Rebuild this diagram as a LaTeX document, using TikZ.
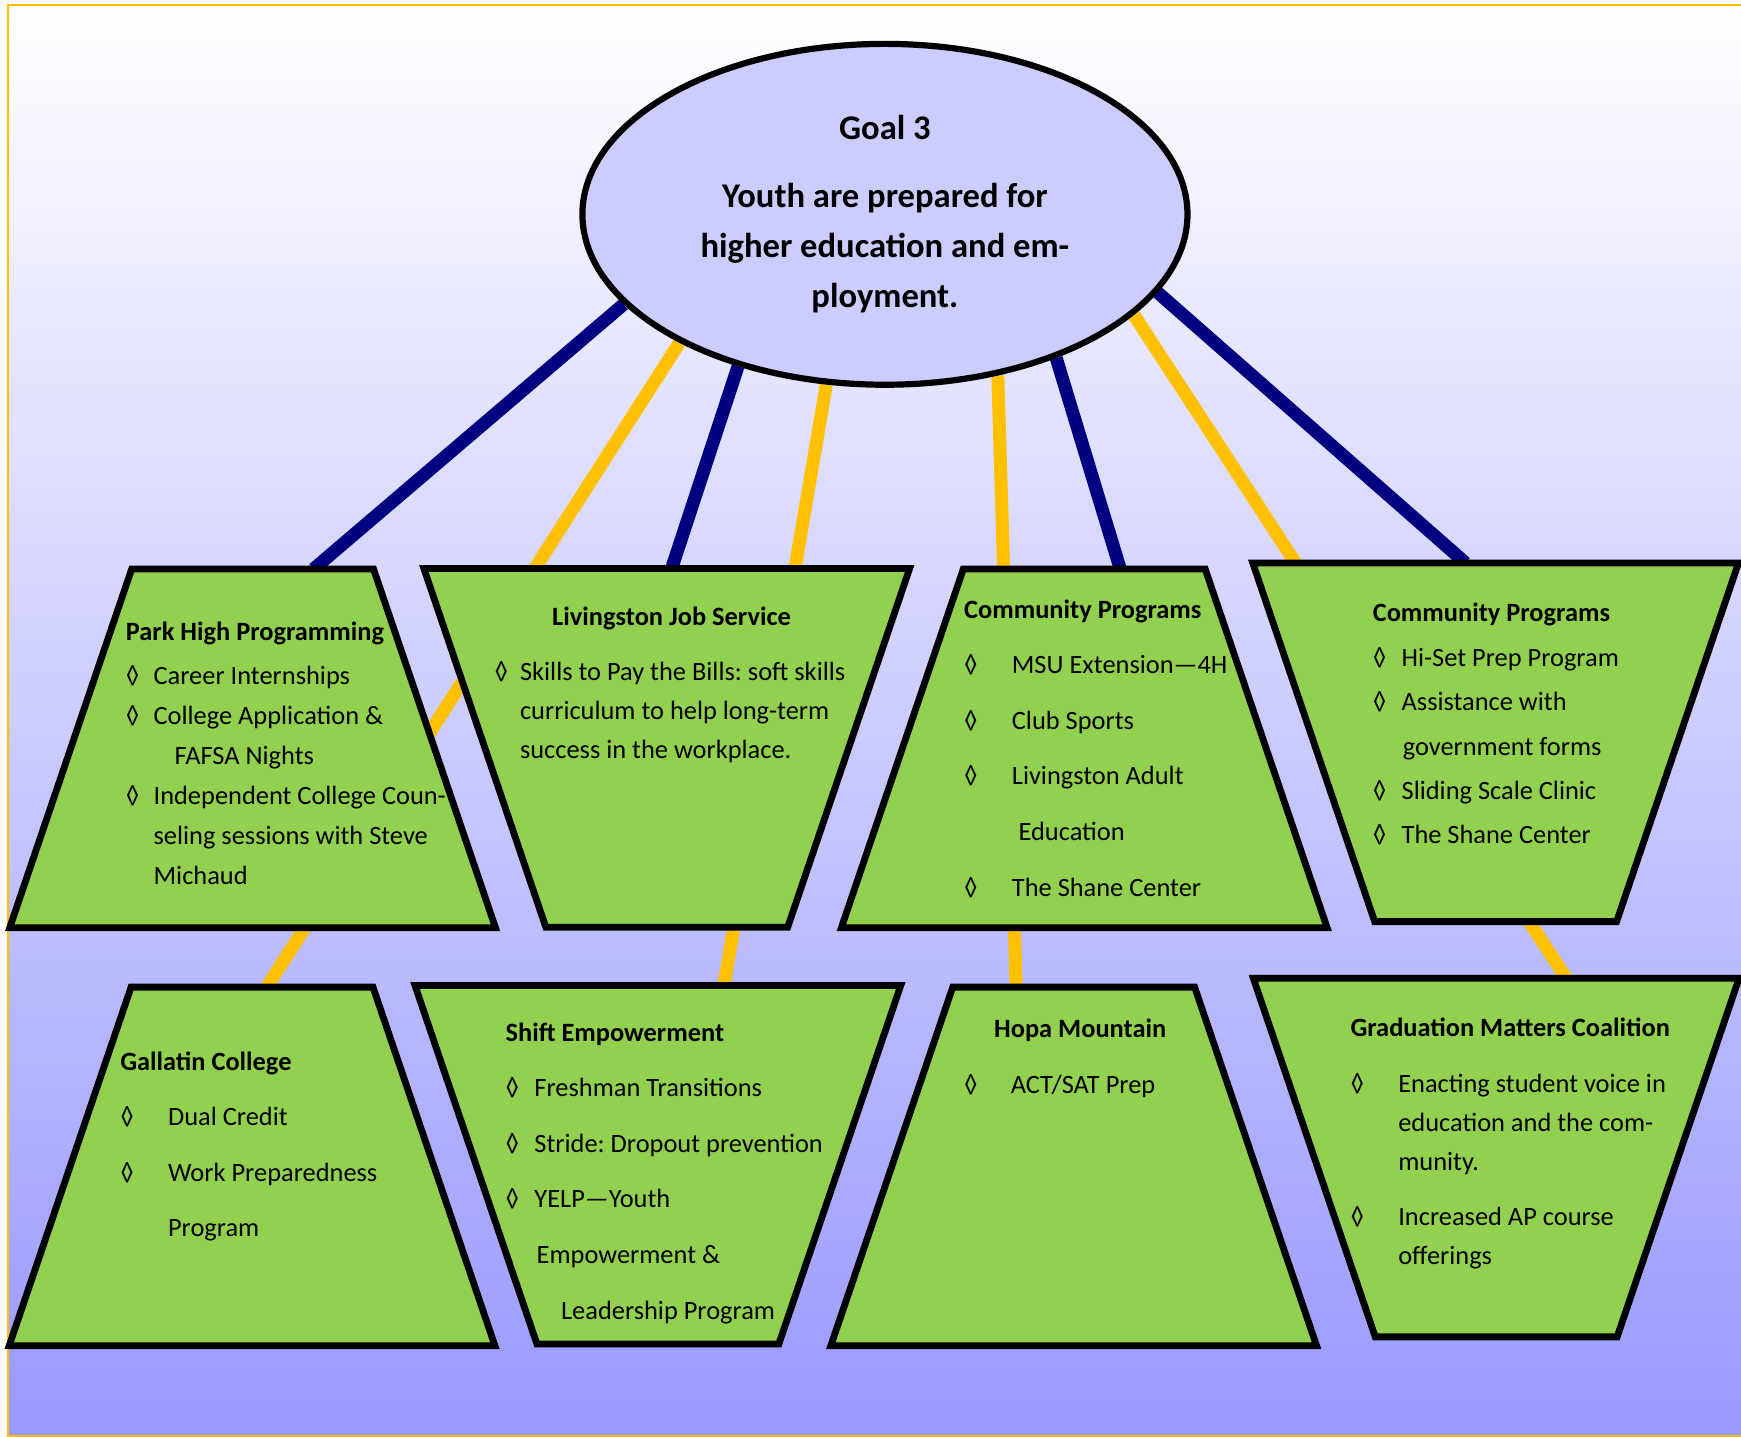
\documentclass[tikz,border=0pt]{standalone}
\usepackage{fontspec}
\setmainfont{Carlito}
\frenchspacing
\usetikzlibrary{shapes.geometric, calc}

\definecolor{boxgreen}{HTML}{92D050}
\definecolor{goalfill}{HTML}{CCCCFF}
\definecolor{navyline}{HTML}{000080}
\definecolor{goldline}{HTML}{FFC000}
\definecolor{bgbottom}{HTML}{9999FF}

\newlength{\pxu}
\setlength{\pxu}{0.5551pt}
\newcommand{\dm}[1]{\makebox[#1\pxu][l]{◊}}
\newcommand{\ind}[1]{\hspace*{#1\pxu}}

\pgfdeclarelayer{bg}
\pgfdeclarelayer{links}
\pgfsetlayers{bg,links,main}

\tikzset{
  box/.style={trapezium, draw=black, fill=boxgreen, line width=3.4pt,
    trapezium stretches=true, minimum width=243pt, minimum height=179.3pt,
    inner sep=2pt, outer sep=0pt},
  upbox/.style={box, trapezium left angle=63.25, trapezium right angle=63.25},
  downbox/.style={box, trapezium left angle=116.75, trapezium right angle=116.75},
  goalnode/.style={ellipse, draw=black, fill=goalfill, line width=3.1pt,
    minimum width=302.5pt, minimum height=170.4pt, inner sep=0pt, align=center,
    font=\bfseries\fontsize{17.3}{25}\selectfont},
  txt/.style={anchor=base west, align=left, inner sep=0pt},
  navylink/.style={draw=navyline, line width=6.5pt},
  goldlink/.style={draw=goldline, line width=6.5pt}
}

\begin{document}
\begin{tikzpicture}[x=0.5551pt, y=-0.5551pt]
		\useasboundingbox (0,0) rectangle (1568,1294);
		\begin{pgfonlayer}{bg}
			\fill[top color=white, bottom color=bgbottom] (7.5,4.5) rectangle (1570,1293);
			\draw[goldline, line width=1pt] (1570,4.5) -- (7.5,4.5) -- (7.5,1293) -- (1570,1293);
		\end{pgfonlayer}

		% boxes, top row
		\node[upbox] (park) at (227.5,674) {};
		\node[downbox] (ljs) at (600.5,673.5) {};
		\node[upbox] (comm) at (976.5,674) {};
		\node[downbox] (commb) at (1347,668.5) {};
		% boxes, bottom row
		\node[upbox] (gall) at (227,1050.5) {};
		\node[downbox] (shift) at (592.5,1049) {};
		\node[upbox] (hopa) at (967,1050.5) {};
		\node[downbox] (grad) at (1347.5,1042.5) {};

		\node[goalnode] (goal) at (797,193) {Goal 3\\[8.9pt] Youth are prepared for\\ higher education and em-\\ ployment.};

		\begin{pgfonlayer}{links}
			\path[navylink] (goal.199) -- ($(park.top left corner)!0.752!(park.top right corner)$);
			\path[navylink] (goal.226) -- ($(ljs.top left corner)!0.51!(ljs.top right corner)$);
			\path[navylink] (goal.320) -- ($(comm.top left corner)!0.649!(comm.top right corner)$);
			\path[navylink] (goal.344) -- ($(commb.top left corner)!0.438!(commb.top right corner)$);
			\path[goldlink] (goal.212) -- ($(gall.top left corner)!0.561!(gall.top right corner)$);
			\path[goldlink] (goal.251) -- ($(shift.top left corner)!0.636!(shift.top right corner)$);
			\path[goldlink] (goal.305) -- ($(hopa.top left corner)!0.262!(hopa.top right corner)$);
			\path[goldlink] (goal.338) -- ($(grad.top left corner)!0.644!(grad.top right corner)$);
		\end{pgfonlayer}

		% texts, placed by the baseline of their last line
		\node[txt, font=\fontsize{13.2}{20}\selectfont] (parktxt) at (113,797) {\textbf{Park High Programming}\\[2.2pt]
			\dm{25}Career Internships\\
			\dm{25}College Application \&\\
			\ind{44}FAFSA Nights\\
			\dm{25}Independent College Coun-\\
			\ind{25}seling sessions with Steve\\
			\ind{25}Michaud};
		\node[txt, font=\fontsize{13.2}{19.4}\selectfont] (ljstxt) at (445,683) {\ind{52}\textbf{Livingston Job Service}\\[8.4pt]
			\dm{23}Skills to Pay the Bills: soft skills\\
			\ind{23}curriculum to help long-term\\
			\ind{23}success in the workplace.};
		\node[txt, font=\fontsize{13.2}{27.8}\selectfont] (commtxt) at (868,807) {\textbf{Community Programs}\\
			\dm{43}MSU Extension—4H\\
			\dm{43}Club Sports\\
			\dm{43}Livingston Adult\\
			\ind{49}Education\\
			\dm{43}The Shane Center};
		\node[txt, font=\fontsize{13.2}{22.2}\selectfont] (commbtxt) at (1236,760) {\textbf{Community Programs}\\
			\dm{26}Hi-Set Prep Program\\
			\dm{26}Assistance with\\
			\ind{27}government forms\\
			\dm{26}Sliding Scale Clinic\\
			\dm{26}The Shane Center};
		\node[txt, font=\fontsize{13.2}{27.8}\selectfont] (galltxt) at (108,1114) {\textbf{Gallatin College}\\
			\dm{43}Dual Credit\\
			\dm{43}Work Preparedness\\
			\ind{43}Program};
		\node[txt, font=\fontsize{13.2}{27.8}\selectfont] (shifttxt) at (455,1188) {\textbf{Shift Empowerment}\\
			\dm{26}Freshman Transitions\\
			\dm{26}Stride: Dropout prevention\\
			\dm{26}YELP—Youth\\
			\ind{28}Empowerment \&\\
			\ind{50}Leadership Program};
		\node[txt, font=\fontsize{13.2}{28.3}\selectfont] (hopatxt) at (868,985) {\ind{27}\textbf{Hopa Mountain}\\
			\dm{42}ACT/SAT Prep};
		\node[txt, font=\fontsize{13.2}{19.4}\selectfont] (gradtxt) at (1216,1139) {\textbf{Graduation Matters Coalition}\\[8.9pt]
			\dm{43}Enacting student voice in\\
			\ind{43}education and the com-\\
			\ind{43}munity.\\[8.3pt]
			\dm{43}Increased AP course\\
			\ind{43}offerings};
	\end{tikzpicture}
\end{document}
